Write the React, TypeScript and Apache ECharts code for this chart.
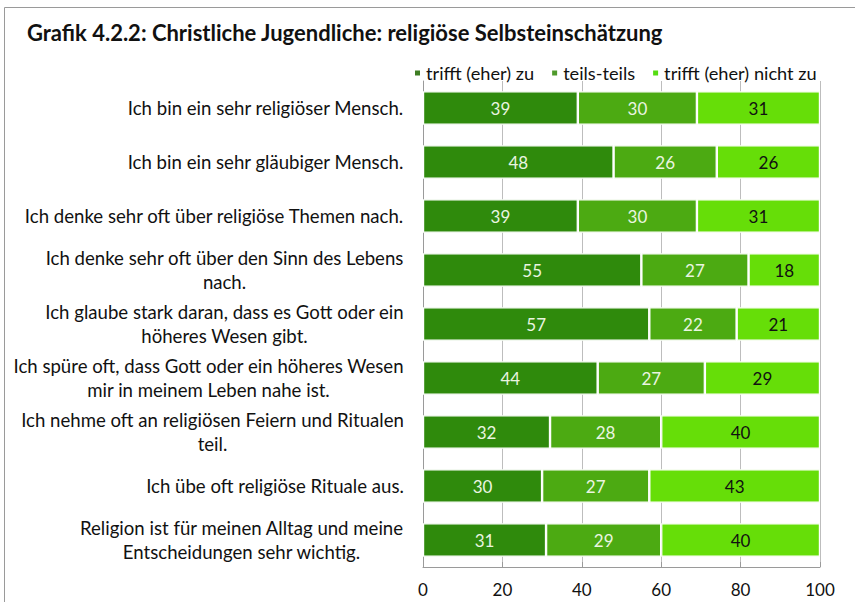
import React, { useEffect, useRef } from "react";
import * as echarts from "echarts";

const categories = [
  "Ich bin ein sehr religiöser Mensch.",
  "Ich bin ein sehr gläubiger Mensch.",
  "Ich denke sehr oft über religiöse Themen nach.",
  "Ich denke sehr oft über den Sinn des Lebens\nnach.",
  "Ich glaube stark daran, dass es Gott oder ein\nhöheres Wesen gibt.",
  "Ich spüre oft, dass Gott oder ein höheres Wesen\nmir in meinem Leben nahe ist.",
  "Ich nehme oft an religiösen Feiern und Ritualen\nteil.",
  "Ich übe oft religiöse Rituale aus.",
  "Religion ist für meinen Alltag und meine\nEntscheidungen sehr wichtig.",
];
const trifftZu = [39, 48, 39, 55, 57, 44, 32, 30, 31];
const teilsTeils = [30, 26, 30, 27, 22, 27, 28, 27, 29];
const trifftNicht = [31, 26, 31, 18, 21, 29, 40, 43, 40];
const seriesNames = ["trifft (eher) zu", "teils-teils", "trifft (eher) nicht zu"];
const xTicks = [0, 20, 40, 60, 80, 100];

const FONT = "Lato";
const CAT_SIZE = 18.6;

function measure(s: string, size: number) {
  const c = document.createElement("canvas").getContext("2d");
  if (!c) return s.length * size * 0.5;
  c.font = `${size}px ${FONT}`;
  return c.measureText(s).width;
}

export default function App() {
  const ref = useRef<HTMLDivElement>(null);
  useEffect(() => {
    if (!ref.current) return;
    const chart = echarts.init(ref.current, null, { renderer: "svg" });
    const colors = ["#2f8a0c", "#4caa12", "#66de08"];
    const labelColors = ["#eaf5e0", "#eaf5e0", "#111111"];
    const data = [trifftZu, teilsTeils, trifftNicht];
    const rich: Record<string, any> = {};
    categories.forEach((c, i) => {
      const w = Math.max(...c.split("\n").map((l) => measure(l, CAT_SIZE)));
      rich["r" + i] = {
        width: Math.ceil(w) + 2,
        align: "center",
        fontFamily: FONT,
        fontSize: CAT_SIZE,
        color: "#111",
        lineHeight: 24,
      };
    });
    chart.setOption({
      animation: false,
      backgroundColor: "#ffffff",
      graphic: [
        {
          type: "rect",
          shape: { x: 4.5, y: 7.5, width: 900, height: 700 },
          style: { fill: "none", stroke: "#9a9a9a", lineWidth: 1 },
          silent: true,
        },
      ],
      title: {
        text: "Grafik 4.2.2: Christliche Jugendliche: religiöse Selbsteinschätzung",
        left: 22,
        top: 16,
        textStyle: { fontFamily: FONT, fontSize: 22, fontWeight: "bold", color: "#111" },
      },
      legend: {
        left: 408,
        top: 59,
        itemWidth: 7,
        itemHeight: 7,
        itemGap: 16,
        icon: "rect",
        textStyle: { fontFamily: FONT, fontSize: 18.2, color: "#111" },
        data: seriesNames.map((n, i) => ({
          name: n,
          itemStyle: { color: ["#3d7d22", "#4f9a2b", "#55dd11"][i] },
        })),
      },
      grid: { left: 423, right: 35, top: 81, bottom: 35, containLabel: false },
      xAxis: {
        type: "value",
        min: 0,
        max: 100,
        interval: 20,
        axisLine: { show: true, lineStyle: { color: "#9a9a9a" } },
        axisTick: { show: true, inside: true, length: 5, lineStyle: { color: "#9a9a9a" } },
        splitLine: { show: true, lineStyle: { color: "#bdbdbd" } },
        axisLabel: {
          fontFamily: FONT,
          fontSize: 17,
          color: "#111",
          margin: 14,
          formatter: (v: number) => (xTicks.includes(v) ? String(v) : ""),
        },
      },
      yAxis: {
        type: "category",
        inverse: true,
        data: categories,
        axisLine: { show: true, lineStyle: { color: "#9a9a9a" } },
        axisTick: { show: false },
        axisLabel: {
          align: "right",
          margin: 18,
          fontFamily: FONT,
          fontSize: CAT_SIZE,
          lineHeight: 24,
          color: "#111",
          formatter: (v: string, idx: number) =>
            v
              .split("\n")
              .map((l) => `{r${idx}|${l}}`)
              .join("\n"),
          rich,
        },
      },
      series: data.map((d, i) => ({
        name: seriesNames[i],
        type: "bar",
        stack: "total",
        data: d,
        barCategoryGap: "38%",
        itemStyle: { color: colors[i], borderColor: "#ffffff", borderWidth: 1.2 },
        label: {
          show: true,
          position: "inside",
          fontFamily: FONT,
          fontSize: 17,
          color: labelColors[i],
        },
      })),
    });
    return () => chart.dispose();
  }, []);
  return (
    <div style={{ position: "fixed", left: 0, top: 0, width: 855, height: 602 }}>
      <div ref={ref} style={{ width: 855, height: 602 }} />
    </div>
  );
}
